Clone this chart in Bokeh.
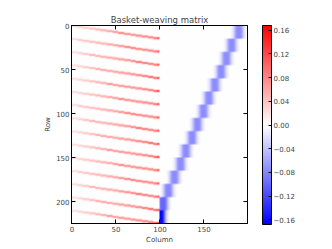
import numpy as np
from bokeh.plotting import figure
from bokeh.models import (LinearColorMapper, ColorBar, FixedTicker, LinearAxis,
                          Range1d, CustomJSTickFormatter)
from bokeh.embed import file_html
from bokeh.resources import INLINE

# ---- data ----
n_rows = 225
n_cols = 200
rows_per_scan = 15
n_scans = 15
n_samples = 100  # columns of the red (left) part

# red value of each row-step inside one scan (left -> right)
red_steps = [0.035, 0.045, 0.055, 0.065, 0.075, 0.08, 0.09, 0.095,
             0.105, 0.11, 0.115, 0.12, 0.125, 0.13, 0.135]
red_end = 0.168

# blue blocks, listed from the bottom block to the top block
blue_centers = [101, 104, 110, 117, 124, 130, 137, 143, 150, 156, 163, 170, 176, 182, 190]
blue_amps = [-0.165, -0.10, -0.078, -0.076, -0.075, -0.075, -0.075, -0.075,
             -0.075, -0.075, -0.075, -0.075, -0.075, -0.075, -0.075]
blue_profile = [0.03, 0.08, 0.15, 0.25, 0.4, 0.6, 0.8, 0.95, 1.0, 1.0,
                1.0, 1.0, 0.95, 0.8, 0.6, 0.4, 0.25, 0.15, 0.08, 0.03]

x_ticks = [0, 50, 100, 150]
y_ticks = [0, 50, 100, 150, 200]
cbar_ticks = [-0.16, -0.12, -0.08, -0.04, 0.0, 0.04, 0.08, 0.12, 0.16]
vmin, vmax = -0.168, 0.168

# ---- build matrix ----
M = np.zeros((n_rows, n_cols))
seg = n_samples / rows_per_scan
for k in range(n_scans):
    for j in range(rows_per_scan):
        r = k * rows_per_scan + j
        c0 = int(round(j * seg))
        c1 = int(round((j + 1) * seg))
        M[r, c0:c1] = red_steps[j]
    M[k * rows_per_scan + rows_per_scan - 1, n_samples - 3:n_samples] = red_end

half = len(blue_profile) // 2
for b in range(n_scans):
    r0 = (n_scans - 1 - b) * rows_per_scan
    for i, w in enumerate(blue_profile):
        c = blue_centers[b] - half + i
        if n_samples <= c < n_cols:
            M[r0:r0 + rows_per_scan, c] += blue_amps[b] * w

FW, FH = 176, 198  # frame size in pixels


def bilinear(A, H, W):
    """Resample A to (H, W) display pixels with bilinear sampling (as imshow does)."""
    nr, nc = A.shape
    ys = (np.arange(H) + 0.5) * nr / H - 0.5
    xs = (np.arange(W) + 0.5) * nc / W - 0.5
    y0 = np.clip(np.floor(ys).astype(int), 0, nr - 1)
    x0 = np.clip(np.floor(xs).astype(int), 0, nc - 1)
    y1 = np.clip(y0 + 1, 0, nr - 1)
    x1 = np.clip(x0 + 1, 0, nc - 1)
    fy = np.clip(ys - np.floor(ys), 0, 1)[:, None]
    fx = np.clip(xs - np.floor(xs), 0, 1)[None, :]
    a = A[np.ix_(y0, x0)]
    b = A[np.ix_(y0, x1)]
    c = A[np.ix_(y1, x0)]
    d = A[np.ix_(y1, x1)]
    return (1 - fy) * ((1 - fx) * a + fx * b) + fy * ((1 - fx) * c + fx * d)


D = bilinear(M, FH, FW)
# soften the thin positive lines vertically, as the antialiased raster shows them
pos = np.clip(D, 0, None)
soft = pos.copy()
soft[1:, :] += 0.35 * pos[:-1, :]
soft[:-1, :] += 0.35 * pos[1:, :]
D = np.where(D < 0, D, np.minimum(soft, vmax))


def bwr(n=256):
    cols = []
    for i in range(n):
        t = i / (n - 1)
        if t < 0.5:
            g = int(round(255 * t * 2))
            cols.append('#%02x%02x%02x' % (g, g, 255))
        else:
            g = int(round(255 * (1 - t) * 2))
            cols.append('#%02x%02x%02x' % (255, g, g))
    return cols


mapper = LinearColorMapper(palette=bwr(), low=vmin, high=vmax)

FONT = "DejaVu Sans"
p = figure(frame_width=FW, frame_height=FH,
           x_range=Range1d(-0.5, n_cols - 0.5), y_range=Range1d(n_rows - 0.5, -0.5),
           output_backend="svg", toolbar_location=None,
           min_border_left=71, min_border_top=25, min_border_bottom=26,
           min_border_right=5,
           title="Basket-weaving matrix")
p.title.text_font = FONT
p.title.text_font_size = "8.5px"
p.title.text_font_style = "normal"
p.title.align = "center"
p.title.standoff = 2
p.grid.visible = False
p.outline_line_color = "black"
p.background_fill_color = "white"
p.border_fill_color = "white"

p.image(image=[D], x=-0.5, y=-0.5, dw=n_cols, dh=n_rows, color_mapper=mapper)

for ax in (p.xaxis[0], p.yaxis[0]):
    ax.major_label_text_font = FONT
    ax.major_label_text_font_size = "7px"
    ax.axis_label_text_font = FONT
    ax.axis_label_text_font_size = "7px"
    ax.axis_label_text_font_style = "normal"
    ax.major_tick_in = 4
    ax.major_tick_out = 0
    ax.minor_tick_in = 0
    ax.minor_tick_out = 0
    ax.axis_line_color = "black"
    ax.major_label_standoff = 2
    ax.axis_label_standoff = 1
p.xaxis[0].ticker = FixedTicker(ticks=x_ticks)
p.yaxis[0].ticker = FixedTicker(ticks=y_ticks)
p.xaxis[0].axis_label = "Column"
p.yaxis[0].axis_label = "Row"

blank = CustomJSTickFormatter(code="return '';")
top_ax = LinearAxis(ticker=FixedTicker(ticks=x_ticks), formatter=blank,
                    major_tick_in=4, major_tick_out=0, minor_tick_in=0, minor_tick_out=0,
                    major_label_standoff=0)
right_ax = LinearAxis(ticker=FixedTicker(ticks=y_ticks), formatter=blank,
                      major_tick_in=4, major_tick_out=0, minor_tick_in=0, minor_tick_out=0,
                      major_label_standoff=0)
p.add_layout(top_ax, "above")
p.add_layout(right_ax, "right")

cb = ColorBar(color_mapper=mapper, ticker=FixedTicker(ticks=cbar_ticks),
              formatter=CustomJSTickFormatter(
                  code="return (tick < -1e-9 ? '\u2212' : '') + Math.abs(tick).toFixed(2);"),
              width=9, height=199, padding=0, margin=0,
              label_standoff=2, major_label_text_font=FONT,
              major_label_text_font_size="7px",
              major_tick_in=3, major_tick_out=0, major_tick_line_color="black",
              minor_tick_in=0, minor_tick_out=0,
              bar_line_color="black", background_fill_color=None,
              border_line_color=None, location=(15, -1))
p.add_layout(cb, "right")

open("out.html", "w").write(file_html(p, INLINE))
